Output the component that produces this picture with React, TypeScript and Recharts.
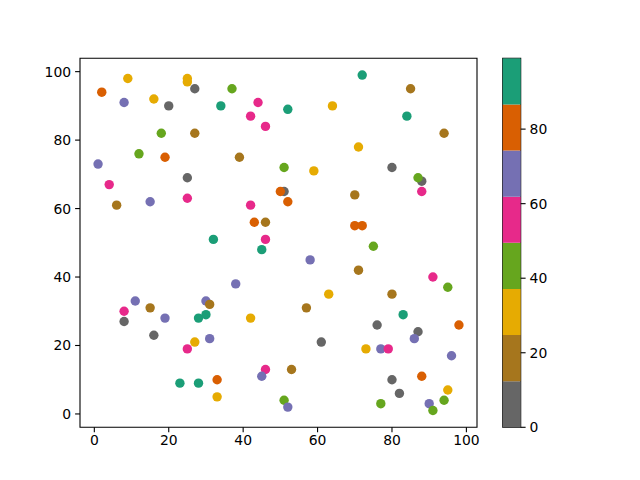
import { ScatterChart, Scatter, XAxis, YAxis, ReferenceArea, BarChart, Bar } from "recharts";

// point positions and colour values
const xs = [
  2, 8, 9, 16, 20, 25, 25, 27, 34, 37, 42, 44, 46, 18, 27, 12, 19, 39, 1, 4, 25, 6, 15, 25, 42, 43, 46, 32, 46, 45,
  72, 85, 52, 64, 84, 94, 71, 51, 59, 80, 88, 87, 51, 50, 52, 70, 88, 70, 72, 75,
  11, 15, 8, 19, 8, 16, 30, 31, 30, 28, 38, 42, 27, 25, 31, 23, 28, 33, 33, 46, 45, 51, 52,
  58, 57, 63, 71, 91, 95, 80, 83, 76, 98, 87, 86, 61, 73, 77, 79, 96, 53, 88, 80, 82, 95, 77, 90, 94, 91,
];
const ys = [
  94, 91, 98, 92, 90, 98, 97, 95, 90, 95, 87, 91, 84, 82, 82, 76, 75, 75, 73, 67, 69, 61, 62, 63, 61, 56, 56, 51, 51, 48,
  99, 95, 89, 90, 87, 82, 78, 72, 71, 72, 68, 69, 65, 65, 62, 64, 65, 55, 55, 49,
  33, 31, 30, 28, 27, 23, 33, 32, 29, 28, 38, 28, 21, 19, 22, 9, 9, 10, 5, 13, 11, 4, 2,
  45, 31, 35, 42, 40, 37, 35, 29, 26, 26, 24, 22, 21, 19, 19, 19, 17, 13, 11, 10, 6, 7, 3, 3, 4, 1,
];
const cs = [
  80, 68, 31, 31, 6, 31, 31, 6, 93, 43, 56, 56, 56, 43, 19, 43, 80, 19, 68, 56, 6, 19, 68, 56, 56, 80, 19, 93, 56, 93,
  93, 19, 93, 31, 93, 19, 31, 43, 31, 6, 6, 43, 6, 80, 80, 19, 56, 80, 80, 43,
  68, 19, 56, 68, 6, 6, 68, 19, 93, 93, 68, 31, 31, 56, 68, 93, 93, 80, 31, 56, 68, 43, 68,
  68, 19, 31, 19, 56, 43, 19, 93, 6, 80, 6, 68, 6, 31, 68, 56, 68, 19, 80, 6, 6, 31, 43, 68, 43, 43,
];

const axisTicks = [0, 20, 40, 60, 80, 100];
const cbarTicks = [0, 20, 40, 60, 80];
const cmin = 0;
const cmax = 99;

// Dark2 reversed
const palette = ["#666666", "#a6761d", "#e6ab02", "#66a61e", "#e7298a", "#7570b3", "#d95f02", "#1b9e77"];

const colorFor = (c: number) => {
  const n = palette.length;
  const i = Math.min(n - 1, Math.max(0, Math.floor(((c - cmin) / (cmax - cmin)) * n)));
  return palette[i];
};

const points = xs.map((x, i) => ({ x, y: ys[i], c: cs[i] }));

const cbarRow: Record<string, number> = { name: 0 };
palette.forEach((_, i) => {
  cbarRow[`b${i}`] = (cmax - cmin) / palette.length;
});
const cbarData = [cbarRow];

const font = "DejaVu Sans";
const tickStyle = { fontSize: 13.9, fontFamily: font, fill: "#000" };
const lineStyle = { stroke: "#000", strokeWidth: 1.1 };

const Dot = (props: any) => {
  const { cx, cy, payload } = props;
  return <circle cx={cx} cy={cy} r={4.7} fill={colorFor(payload.c)} />;
};

export default function App() {
  return (
    <div style={{ position: "absolute", left: 0, top: 0, width: 640, height: 480, background: "#fff" }}>
      <div style={{ position: "absolute", left: 0, top: 0 }}>
        <ScatterChart width={640} height={480} margin={{ top: 58.3, left: 40, right: 163, bottom: 22.7 }}>
          <XAxis
            type="number"
            dataKey="x"
            domain={[-3.85, 102.85]}
            ticks={axisTicks}
            allowDataOverflow
            height={30}
            axisLine={false}
            tickLine={lineStyle}
            tickSize={4.9}
            tickMargin={3}
            tick={tickStyle}
          />
          <YAxis
            type="number"
            dataKey="y"
            domain={[-3.9, 103.9]}
            ticks={axisTicks}
            allowDataOverflow
            width={40}
            axisLine={false}
            tickLine={lineStyle}
            tickSize={4.9}
            tickMargin={4}
            tick={tickStyle}
          />
          <Scatter data={points} shape={<Dot />} isAnimationActive={false} />
          <ReferenceArea
            x1={-3.85}
            x2={102.85}
            y1={-3.9}
            y2={103.9}
            fill="none"
            fillOpacity={0}
            stroke="#000"
            strokeWidth={1.1}
            ifOverflow="visible"
          />
        </ScatterChart>
      </div>
      <div style={{ position: "absolute", left: 0, top: 0 }}>
        <BarChart
          width={640}
          height={480}
          data={cbarData}
          margin={{ top: 58.3, left: 502.7, right: 79.3, bottom: 52.7 }}
          barCategoryGap={0}
        >
          <XAxis dataKey="name" hide />
          <YAxis
            orientation="right"
            type="number"
            domain={[cmin, cmax]}
            ticks={cbarTicks}
            allowDataOverflow
            width={40}
            axisLine={false}
            tickLine={lineStyle}
            tickSize={4.9}
            tickMargin={4}
            tick={tickStyle}
          />
          {palette.map((col, i) => (
            <Bar key={i} dataKey={`b${i}`} stackId="cb" fill={col} isAnimationActive={false} />
          ))}
          <ReferenceArea y1={cmin} y2={cmax} fill="none" fillOpacity={0} stroke="#000" strokeWidth={1.1} ifOverflow="visible" />
        </BarChart>
      </div>
    </div>
  );
}
